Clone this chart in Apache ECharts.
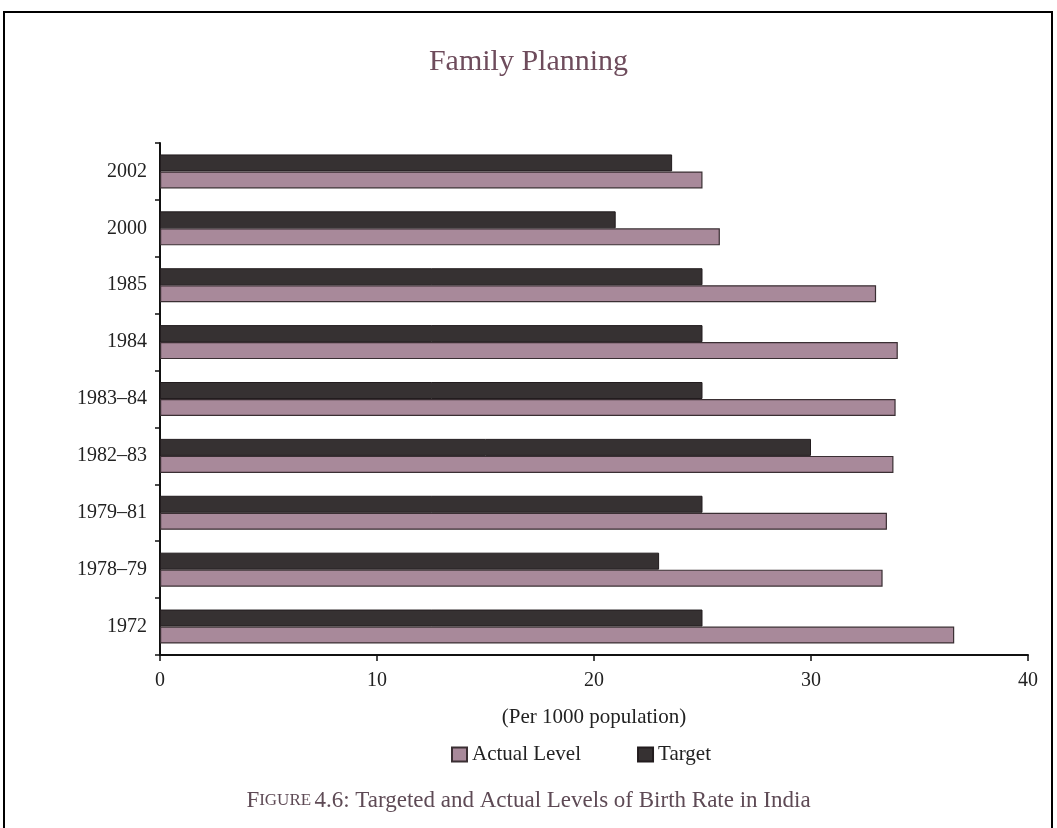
<!DOCTYPE html>
<html>
<head>
<meta charset="utf-8">
<script src="https://cdn.jsdelivr.net/npm/echarts@6/dist/echarts.min.js"></script>
<style>
  html, body { margin: 0; padding: 0; background: #fff; }
  #chart { width: 1057px; height: 828px; }
</style>
</head>
<body>
<div id="chart"></div>
<script>
// categories bottom -> top (category y axis runs upwards)
const years = ['1972', '1978–79', '1979–81', '1982–83', '1983–84', '1984', '1985', '2000', '2002'];
const actualLevel = [36.6, 33.3, 33.5, 33.8, 33.9, 34.0, 33.0, 25.8, 25.0];
const targetLevel = [25, 23, 25, 30, 25, 25, 25, 21, 23.6];
const xTicks = [0, 10, 20, 30, 40];

const serif = '"Liberation Serif", "DejaVu Serif", serif';
const mauve = '#6e4c5c';

let chart = echarts.init(document.getElementById('chart'));

let option = {
  backgroundColor: '#fff',
  animation: false,
  title: {
    text: 'Family Planning',
    left: 'center',
    top: 42,
    textStyle: { fontFamily: serif, fontSize: 30, fontWeight: 'normal', color: mauve }
  },
  legend: {
    top: 739,
    left: 446,
    itemGap: 56,
    itemWidth: 15,
    itemHeight: 14,
    icon: 'rect',
    textStyle: { fontFamily: serif, fontSize: 21, color: '#222' },
    data: ['Actual Level', 'Target']
  },
  grid: { left: 160, right: 29, top: 143, bottom: 173 },
  xAxis: {
    type: 'value',
    min: 0,
    max: 40,
    interval: 10,
    name: '(Per 1000 population)',
    nameLocation: 'middle',
    nameGap: 52,
    nameTextStyle: { fontFamily: serif, fontSize: 21, color: '#222' },
    axisLine: { show: true, lineStyle: { color: '#111', width: 2 } },
    axisTick: { show: true, length: 6, lineStyle: { color: '#111', width: 1.5 } },
    axisLabel: {
      fontFamily: serif, fontSize: 20, color: '#222', margin: 16,
      formatter: v => xTicks.includes(v) ? String(v) : ''
    },
    splitLine: { show: false }
  },
  yAxis: {
    type: 'category',
    data: years,
    axisLine: { show: true, lineStyle: { color: '#111', width: 2 } },
    axisTick: { show: true, length: 5, lineStyle: { color: '#111', width: 1.5 } },
    axisLabel: { fontFamily: serif, fontSize: 20, color: '#222', margin: 13 },
    splitLine: { show: false }
  },
  series: [
    {
      name: 'Target',
      type: 'bar',
      barWidth: 17,
      barGap: '0%',
      itemStyle: { color: '#363132', borderColor: '#221c1e', borderWidth: 1 },
      data: targetLevel
    },
    {
      name: 'Actual Level',
      type: 'bar',
      barWidth: 17,
      barGap: '0%',
      itemStyle: { color: '#a8899a', borderColor: '#3a2f33', borderWidth: 1.2 },
      data: actualLevel
    }
  ],
  graphic: [
    {
      // page frame
      type: 'polyline',
      shape: { points: [[4, 828], [4, 12], [1052, 12], [1052, 828]] },
      style: { stroke: '#000', lineWidth: 2, fill: null }
    },
    {
      type: 'text',
      left: 'center',
      top: 789,
      style: {
        text: '{a|F}{b|IGURE} {a|4.6: Targeted and Actual Levels of Birth Rate in India}',
        fill: mauve,
        rich: {
          a: { fontFamily: serif, fontSize: 23, fill: '#5e4a55' },
          b: { fontFamily: serif, fontSize: 17, fill: '#5e4a55' }
        }
      }
    }
  ]
};

option && chart.setOption(option);
</script>
</body>
</html>
